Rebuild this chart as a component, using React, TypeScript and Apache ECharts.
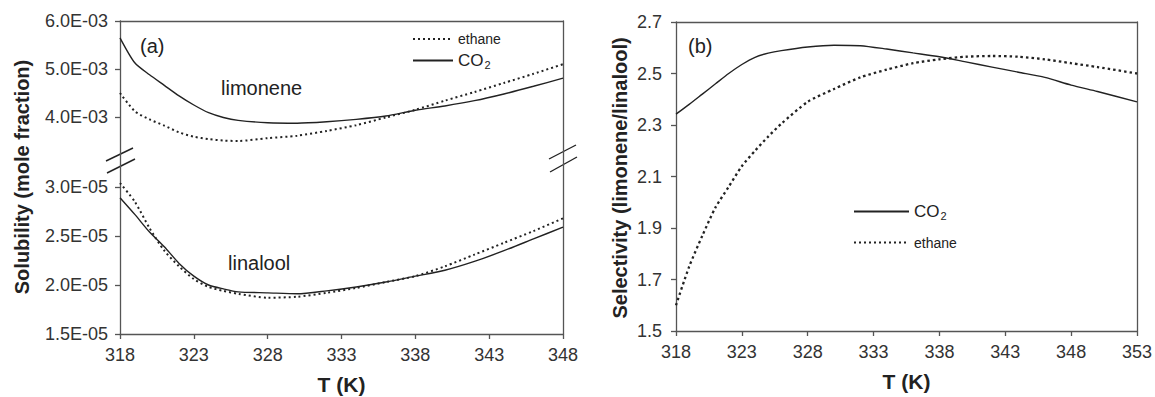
import React, { useEffect, useRef } from 'react';
import * as echarts from 'echarts';

// Temperatures (K) for the solubility curves, panel (a)
const tempsA = [318, 319, 320, 321, 322, 323, 324, 325, 326, 328, 330, 332, 334, 336, 338, 340, 342, 344, 346, 348];
// Limonene solubility (mole fraction)
const limoneneCO2 = [5.65e-3, 5.13e-3, 4.88e-3, 4.66e-3, 4.44e-3, 4.25e-3, 4.09e-3, 3.99e-3, 3.93e-3, 3.88e-3, 3.87e-3, 3.9e-3, 3.95e-3, 4.02e-3, 4.14e-3, 4.23e-3, 4.34e-3, 4.48e-3, 4.64e-3, 4.81e-3];
const limoneneEthane = [4.5e-3, 4.12e-3, 3.95e-3, 3.82e-3, 3.68e-3, 3.59e-3, 3.54e-3, 3.51e-3, 3.5e-3, 3.56e-3, 3.61e-3, 3.71e-3, 3.83e-3, 3.99e-3, 4.15e-3, 4.34e-3, 4.52e-3, 4.71e-3, 4.9e-3, 5.1e-3];
// Linalool solubility (mole fraction)
const linaloolCO2 = [2.89e-5, 2.72e-5, 2.54e-5, 2.39e-5, 2.22e-5, 2.09e-5, 2.0e-5, 1.96e-5, 1.93e-5, 1.92e-5, 1.91e-5, 1.94e-5, 1.98e-5, 2.03e-5, 2.09e-5, 2.15e-5, 2.24e-5, 2.35e-5, 2.47e-5, 2.59e-5];
const linaloolEthane = [3.04e-5, 2.85e-5, 2.58e-5, 2.35e-5, 2.19e-5, 2.06e-5, 1.98e-5, 1.94e-5, 1.91e-5, 1.87e-5, 1.88e-5, 1.92e-5, 1.97e-5, 2.03e-5, 2.09e-5, 2.19e-5, 2.31e-5, 2.43e-5, 2.55e-5, 2.68e-5];

// Temperatures (K) for the selectivity curves, panel (b)
const tempsB = [318, 319, 320, 321, 322, 323, 324, 325, 326, 328, 330, 332, 334, 336, 338, 340, 342, 344, 346, 348, 350, 353];
const selectivityCO2 = [2.342, 2.38, 2.42, 2.46, 2.5, 2.535, 2.563, 2.579, 2.589, 2.603, 2.61, 2.608, 2.595, 2.58, 2.565, 2.545, 2.525, 2.505, 2.485, 2.455, 2.43, 2.39];
const selectivityEthane = [1.6, 1.75, 1.87, 1.98, 2.06, 2.14, 2.2, 2.255, 2.305, 2.39, 2.44, 2.485, 2.515, 2.54, 2.555, 2.565, 2.568, 2.565, 2.555, 2.54, 2.525, 2.5];

// Axis ticks
const ticksA = [318, 323, 328, 333, 338, 343, 348];
const ticksB = [318, 323, 328, 333, 338, 343, 348, 353];
const limoneneTicks = [4.0e-3, 5.0e-3, 6.0e-3];
const linaloolTicks = [1.5e-5, 2.0e-5, 2.5e-5, 3.0e-5];
const selectivityTicks = [1.5, 1.7, 1.9, 2.1, 2.3, 2.5, 2.7];

const FONT = '"Liberation Sans", Arial, Helvetica, sans-serif';
const INK = '#222';
const AXIS = '#555';

const zip = (xs: number[], ys: number[]) => xs.map((x, i) => [x, ys[i]]);

const sci = (v: number) => {
  const [m, e] = v.toExponential(1).split('e');
  const n = Number(e);
  return `${m}E${n < 0 ? '-' : '+'}${String(Math.abs(n)).padStart(2, '0')}`;
};

const solid = { color: INK, width: 1.4, type: 'solid' as const };
const dotted = { color: INK, width: 2, type: [2, 3] as number[] };
const dottedHeavy = { color: INK, width: 2.3, type: [2.5, 3] as number[] };

const axisLine = { show: true, lineStyle: { color: AXIS, width: 1.3 } };
const tick = { show: true, inside: false, length: 5, lineStyle: { color: AXIS, width: 1.3 } };
const tickLabel = { color: '#333', fontSize: 18, fontFamily: FONT };

const borderAxis = (gridIndex: number, position: string, min: number, max: number) => ({
  type: 'value',
  gridIndex,
  position,
  min,
  max,
  axisLine,
  axisTick: { show: false },
  axisLabel: { show: false },
  splitLine: { show: false },
});

const legendText = {
  fontFamily: FONT,
  color: '#222',
  rich: {
    eth: { fontSize: 14, fontFamily: FONT, color: '#222' },
    co: { fontSize: 17, fontFamily: FONT, color: '#222' },
    sub: { fontSize: 11, fontFamily: FONT, color: '#222', padding: [9, 0, 0, 1] },
  },
};
const legendFormatter = (name: string) => (name === 'CO2' ? '{co|CO}{sub|2}' : '{eth|ethane}');

export default function App() {
  const ref = useRef<HTMLDivElement>(null);

  useEffect(() => {
    if (!ref.current) return;
    const chart = echarts.init(ref.current, undefined, { renderer: 'svg' });

    const breakMark = (x1: number, y1: number, x2: number, y2: number) => ({
      type: 'line',
      shape: { x1, y1, x2, y2 },
      style: { stroke: INK, lineWidth: 1.4 },
    });
    const label = (text: string, x: number, y: number, size = 20) => ({
      type: 'text',
      x,
      y,
      style: { text, fontSize: size, fontFamily: FONT, fill: '#222', align: 'left', verticalAlign: 'middle' },
    });
    const yTitle = (text: string, x: number, y: number) => ({
      type: 'text',
      x,
      y,
      rotation: Math.PI / 2,
      style: { text, fontSize: 20, fontWeight: 'bold', fontFamily: FONT, fill: '#222', align: 'center', verticalAlign: 'middle' },
    });

    const xName = {
      name: 'T (K)',
      nameLocation: 'middle',
      nameGap: 40,
      nameTextStyle: { fontSize: 21, fontWeight: 'bold', fontFamily: FONT, color: '#222' },
    };

    chart.setOption({
      animation: false,
      backgroundColor: '#fff',
      grid: [
        { left: 120, right: 592, top: 21, height: 144 },
        { left: 120, right: 592, top: 165, height: 169 },
        { left: 676, right: 16, top: 22, height: 312 },
      ],
      xAxis: [
        { ...borderAxis(0, 'top', 318, 348) },
        {
          type: 'value',
          gridIndex: 1,
          position: 'bottom',
          min: 318,
          max: 348,
          axisLine,
          axisTick: { ...tick, customValues: ticksA },
          axisLabel: { ...tickLabel, margin: 12, customValues: ticksA },
          splitLine: { show: false },
          ...xName,
        },
        {
          type: 'value',
          gridIndex: 2,
          position: 'bottom',
          min: 318,
          max: 353,
          axisLine,
          axisTick: { ...tick, customValues: ticksB },
          axisLabel: { ...tickLabel, margin: 12, customValues: ticksB },
          splitLine: { show: false },
          ...xName,
        },
        { ...borderAxis(2, 'top', 318, 353) },
      ],
      yAxis: [
        {
          type: 'value',
          gridIndex: 0,
          position: 'left',
          min: 3.0e-3,
          max: 6.0e-3,
          interval: 1.0e-3,
          axisLine,
          axisTick: { ...tick, customValues: limoneneTicks },
          axisLabel: { ...tickLabel, margin: 12, formatter: sci, customValues: limoneneTicks },
          splitLine: { show: false },
        },
        { ...borderAxis(0, 'right', 3.0e-3, 6.0e-3) },
        {
          type: 'value',
          gridIndex: 1,
          position: 'left',
          min: 1.5e-5,
          max: 3.224e-5,
          interval: 5e-6,
          axisLine,
          axisTick: { ...tick, customValues: linaloolTicks },
          axisLabel: { ...tickLabel, margin: 12, formatter: sci, customValues: linaloolTicks },
          splitLine: { show: false },
        },
        { ...borderAxis(1, 'right', 1.5e-5, 3.224e-5) },
        {
          type: 'value',
          gridIndex: 2,
          position: 'left',
          min: 1.5,
          max: 2.7,
          interval: 0.2,
          axisLine,
          axisTick: { ...tick, customValues: selectivityTicks },
          axisLabel: { ...tickLabel, margin: 14, formatter: (v: number) => v.toFixed(1), customValues: selectivityTicks },
          splitLine: { show: false },
        },
        { ...borderAxis(2, 'right', 1.5, 2.7) },
      ],
      legend: [
        {
          orient: 'vertical',
          left: 407,
          top: 27,
          itemWidth: 40,
          itemHeight: 12,
          itemGap: 6,
          selectedMode: false,
          itemStyle: { opacity: 0 },
          data: ['ethane', 'CO2'],
          formatter: legendFormatter,
          textStyle: legendText,
        },
        {
          orient: 'vertical',
          left: 848,
          top: 198,
          itemWidth: 55,
          itemHeight: 12,
          itemGap: 14,
          selectedMode: false,
          itemStyle: { opacity: 0 },
          data: ['CO2', 'ethane'],
          formatter: legendFormatter,
          textStyle: legendText,
        },
      ],
      series: [
        { name: 'CO2', type: 'line', xAxisIndex: 0, yAxisIndex: 0, data: zip(tempsA, limoneneCO2), symbol: 'none', smooth: 0.25, lineStyle: solid },
        { name: 'ethane', type: 'line', xAxisIndex: 0, yAxisIndex: 0, data: zip(tempsA, limoneneEthane), symbol: 'none', smooth: 0.25, lineStyle: dotted },
        { name: 'CO2', type: 'line', xAxisIndex: 1, yAxisIndex: 2, data: zip(tempsA, linaloolCO2), symbol: 'none', smooth: 0.25, lineStyle: solid },
        { name: 'ethane', type: 'line', xAxisIndex: 1, yAxisIndex: 2, data: zip(tempsA, linaloolEthane), symbol: 'none', smooth: 0.25, lineStyle: dotted },
        { name: 'CO2', type: 'line', xAxisIndex: 2, yAxisIndex: 4, data: zip(tempsB, selectivityCO2), symbol: 'none', smooth: 0.25, lineStyle: solid },
        { name: 'ethane', type: 'line', xAxisIndex: 2, yAxisIndex: 4, data: zip(tempsB, selectivityEthane), symbol: 'none', smooth: 0.25, lineStyle: dottedHeavy },
      ],
      graphic: [
        // axis break marks, left and right edges of panel (a)
        breakMark(106, 161, 133, 148),
        breakMark(107, 173, 135, 159),
        breakMark(549, 159, 576, 145),
        breakMark(550, 172, 577, 157),
        label('(a)', 140, 46),
        label('(b)', 688, 46),
        label('limonene', 221, 88),
        label('linalool', 228, 263),
        yTitle('Solubility (mole fraction)', 22, 177),
        yTitle('Selectivity (limonene/linalool)', 620, 178),
      ],
    });

    return () => chart.dispose();
  }, []);

  return <div ref={ref} style={{ position: 'absolute', left: 0, top: 0, width: 1155, height: 397 }} />;
}
